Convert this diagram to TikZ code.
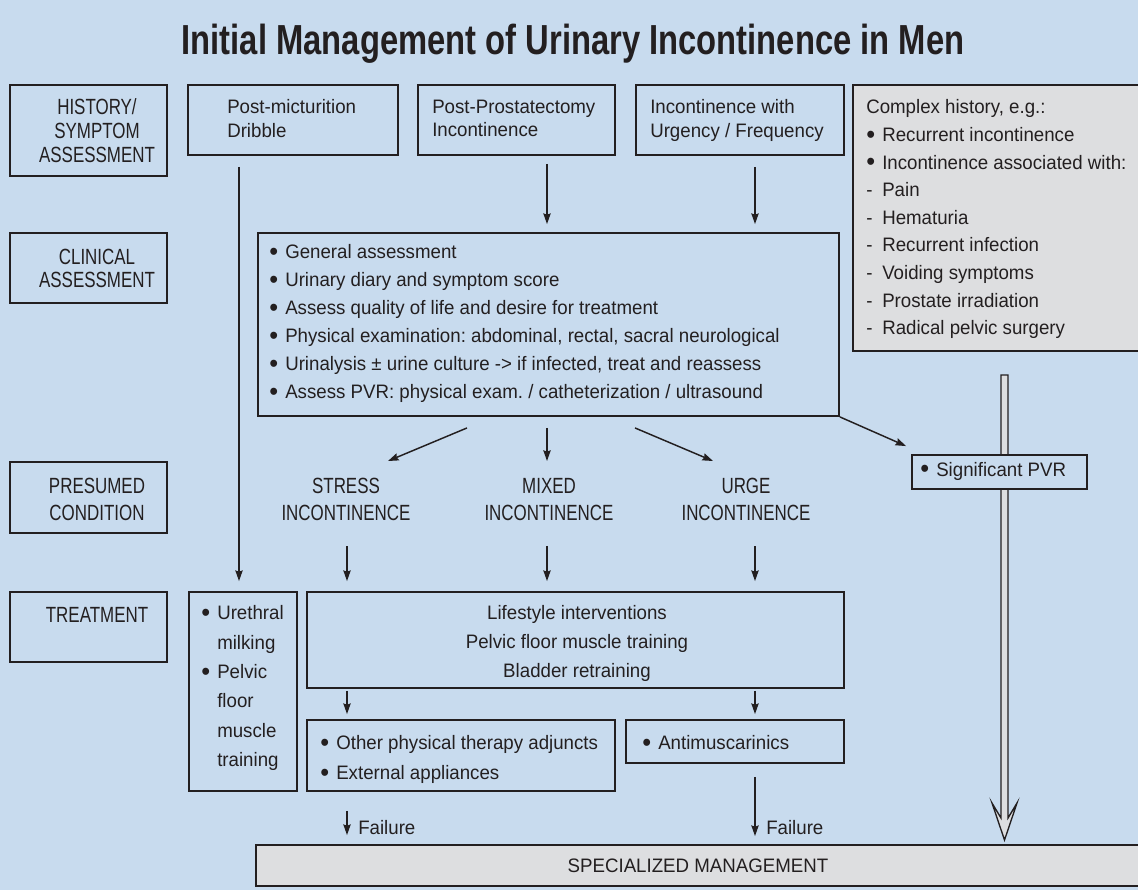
\documentclass[tikz,border=0pt]{standalone}
\usepackage{fontspec}
\setmainfont{Liberation Sans}[FakeStretch=0.96]
\newfontfamily\condfont{Liberation Sans}[FakeStretch=0.77]
\newfontfamily\titlefont{Liberation Sans}[FakeStretch=0.78]
\usetikzlibrary{arrows.meta,fit,calc}
\definecolor{bgblue}{RGB}{200,219,238}
\definecolor{boxgray}{RGB}{221,222,224}
\definecolor{ink}{RGB}{35,31,32}
\frenchspacing
\newcommand\bul{\makebox[12pt][l]{\raisebox{-1.4pt}{\scalebox{1.35}{\textbullet}}}}
\newcommand\dsh{\makebox[12pt][l]{-}}
\newcommand\bsz[1]{\frenchspacing\fontsize{14.6}{#1}\selectfont}
\newcommand\lsz[1]{\condfont\fontsize{16.5}{#1}\selectfont}
\tikzset{
  box/.style={draw=ink, line width=1.4pt, inner sep=0pt, fill=bgblue},
  graybox/.style={box, fill=boxgray},
  arr/.style={draw=ink, line width=1.1pt, -{Stealth[length=8pt,width=5.5pt,inset=1pt]}},
  t/.style={text=ink, inner sep=0pt, align=left},
  lt/.style={text=ink, inner sep=0pt, align=center},
}
\begin{document}
\begin{tikzpicture}[x=0.75pt,y=-0.75pt]
\clip (0,0) rectangle (1138,890);
\fill[bgblue] (0,0) rectangle (1138,890);
\useasboundingbox (0,0) rectangle (1138,890);

% title
\node[text=ink, inner sep=0pt, anchor=base, font=\titlefont\bfseries\fontsize{31.5}{36}\selectfont] (title) at (573,54) {Initial Management of Urinary Incontinence in Men};

% row label boxes
\node[box, fit={(10,85)(167,176)}] (L1) {};
\node[box, fit={(10,233)(167,303)}] (L2) {};
\node[box, fit={(10,462)(167,533)}] (L3) {};
\node[box, fit={(10,592)(167,662)}] (L4) {};
\node[lt, anchor=north, font=\lsz{18pt}] (L1t) at (97,98) {HISTORY/\\SYMPTOM\\ASSESSMENT};
\node[lt, anchor=north, font=\lsz{17.5pt}] (L2t) at (97,249) {CLINICAL\\ASSESSMENT};
\node[lt, anchor=north, font=\lsz{20.25pt}] (L3t) at (97,478) {PRESUMED\\CONDITION};
\node[lt, anchor=north, font=\lsz{18pt}] (L4t) at (97,607) {TREATMENT};

% history row
\node[box, fit={(188,85)(398,155)}] (pm) {};
\node[box, fit={(418,85)(615,155)}] (pp) {};
\node[box, fit={(636,85)(844,155)}] (urg) {};
\node[graybox, fit={(853,85)(1145,351)}] (cx) {};
\node[t, anchor=north west, font=\bsz{17.6pt}] (pmt) at (227,99.5) {Post-micturition\\Dribble};
\node[t, anchor=north west, font=\bsz{17.6pt}] (ppt) at (432,99.5) {Post-Prostatectomy\\Incontinence};
\node[t, anchor=north west, font=\bsz{17.6pt}] (urgt) at (650,99.5) {Incontinence with\\Urgency / Frequency};
\node[t, anchor=north west, font=\bsz{20.7pt}] (cxt) at (866,99.5) {Complex history, e.g.:\\\bul Recurrent incontinence\\\bul Incontinence associated with:\\\dsh Pain\\\dsh Hematuria\\\dsh Recurrent infection\\\dsh Voiding symptoms\\\dsh Prostate irradiation\\\dsh Radical pelvic surgery};

% clinical assessment
\node[box, fit={(258,233)(839,416)}] (cl) {};
\node[t, anchor=north west, font=\bsz{21pt}] (clt) at (269,244.5) {\bul General assessment\\\bul Urinary diary and symptom score\\\bul Assess quality of life and desire for treatment\\\bul Physical examination: abdominal, rectal, sacral neurological\\\bul Urinalysis ± urine culture -> if infected, treat and reassess\\\bul Assess PVR: physical exam. / catheterization / ultrasound};

% presumed conditions
\node[lt, anchor=north, font=\lsz{20.25pt}] (st) at (346,478) {STRESS\\INCONTINENCE};
\node[lt, anchor=north, font=\lsz{20.25pt}] (mx) at (549,478) {MIXED\\INCONTINENCE};
\node[lt, anchor=north, font=\lsz{20.25pt}] (ug) at (746,478) {URGE\\INCONTINENCE};

% treatment
\node[box, fit={(189,592)(297,791)}] (um) {};
\node[box, fit={(307,592)(844,688)}] (ls) {};
\node[box, fit={(307,720)(615,791)}] (op) {};
\node[box, fit={(626,720)(844,763)}] (am) {};
\node[graybox, fit={(256,845)(1145,886)}] (sm) {};
\node[t, anchor=north west, font=\bsz{22pt}] (umt) at (201,605.5) {\bul Urethral\\\hspace*{12pt}milking\\\bul Pelvic\\\hspace*{12pt}floor\\\hspace*{12pt}muscle\\\hspace*{12pt}training};
\node[lt, anchor=north, font=\bsz{21.75pt}] (lst) at (577,605.5) {Lifestyle interventions\\Pelvic floor muscle training\\Bladder retraining};
\node[t, anchor=north west, font=\bsz{22.5pt}] (opt) at (320,735.5) {\bul Other physical therapy adjuncts\\\bul External appliances};
\node[t, anchor=west, font=\bsz{18pt}] (amt) at (642,743) {\bul Antimuscarinics};
\node[t, font=\bsz{18pt}] (smt) at (698,866) {SPECIALIZED MANAGEMENT};
\node[t, anchor=west, font=\bsz{18pt}] (f1) at (358,828) {Failure};
\node[t, anchor=west, font=\bsz{18pt}] (f2) at (766,828) {Failure};

% double arrow (complex history -> specialized management)
\filldraw[fill=boxgray, draw=ink, line width=1pt] (1001,375) -- (1001,818) -- (992,803) -- (1004.5,840) -- (1017,803) -- (1008,818) -- (1008,375) -- cycle;

% significant PVR
\node[box, fit={(912,455)(1087,489)}] (pvr) {};
\node[t, anchor=west, font=\bsz{18pt}] (pvrt) at (920,471) {\bul Significant PVR};

% guides
\coordinate (xA) at (239,0);
\coordinate (xB) at (347,0);
\coordinate (xC) at (547,0);
\coordinate (xD) at (755,0);

% connectors
\draw[arr, shorten <=8.25pt, shorten >=7.5pt] (pm.south -| xA) -- (um.north -| xA);
\draw[arr, shorten <=6pt, shorten >=6pt] (pp.south -| xC) -- (cl.north -| xC);
\draw[arr, shorten <=8.25pt, shorten >=6pt] (urg.south -| xD) -- (cl.north -| xD);
\draw[arr] ($(cl.south)+(-81.5,11)$) -- ($(st.north)+(42,-17)$);
\draw[arr, shorten <=8.25pt, shorten >=12.75pt] (cl.south -| xC) -- (mx.north -| xC);
\draw[arr] ($(cl.south)+(86.5,11)$) -- ($(ug.north)+(-33,-17)$);
\draw[arr] (cl.south east) -- ($(pvr.north west)+(-5,-8)$);
\draw[arr, shorten <=18.75pt, shorten >=7.5pt] (st.south -| xB) -- (ls.north -| xB);
\draw[arr, shorten <=18.75pt, shorten >=7.5pt] (mx.south -| xC) -- (ls.north -| xC);
\draw[arr, shorten <=18.75pt, shorten >=7.5pt] (ug.south -| xD) -- (ls.north -| xD);
\draw[arr, shorten <=1.5pt, shorten >=3.75pt] (ls.south -| xB) -- (op.north -| xB);
\draw[arr, shorten <=1.5pt, shorten >=3.75pt] (ls.south -| xD) -- (am.north -| xD);
\draw[arr, shorten <=14.25pt, shorten >=6.75pt] (op.south -| xB) -- (sm.north -| xB);
\draw[arr, shorten <=9.75pt, shorten >=6pt] (am.south -| xD) -- (sm.north -| xD);
\end{tikzpicture}
\end{document}
